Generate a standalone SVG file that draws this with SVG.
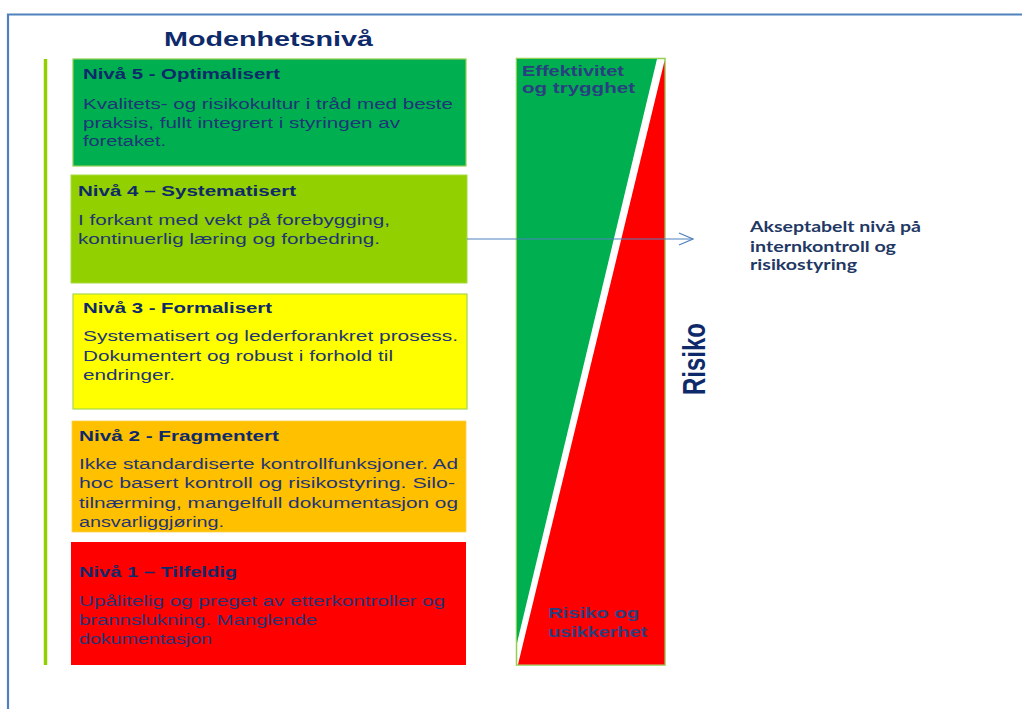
<svg xmlns="http://www.w3.org/2000/svg" width="1022" height="709" viewBox="0 0 1022 709">
<style>
.t{font-family:"Liberation Sans",Arial,sans-serif;font-weight:bold;font-size:15px;fill:#0E2A6A}
.b{font-family:"Liberation Sans",Arial,sans-serif;font-size:15.5px;fill:#1F3576}
.tri{font-family:"Liberation Sans",Arial,sans-serif;font-weight:bold;font-size:15px;fill:#2A3F80}
.lbl{font-family:Lato,"Open Sans",sans-serif;font-weight:bold;font-size:15px;fill:#1F3864}
</style>
<defs>
<marker id="arr" markerWidth="16" markerHeight="14" refX="15" refY="7" orient="auto" markerUnits="userSpaceOnUse">
<path d="M1,1 L15,7 L1,13" fill="none" stroke="#4F81BD" stroke-width="1.2"/>
</marker>
</defs>
<rect width="1022" height="709" fill="#FFFFFF"/>
<g id="frame">
<path d="M1022,14.5 L8,14.5 L8,709" fill="none" stroke="#4F81BD" stroke-width="2.2"/>
</g>
<g id="title">
<text x="164" y="46" font-family="Liberation Sans, Arial, sans-serif" font-weight="bold" font-size="21" fill="#0E2A6A" textLength="209" lengthAdjust="spacingAndGlyphs">Modenhetsnivå</text>
</g>
<g id="axis">
<line x1="45.5" y1="59" x2="45.5" y2="665" stroke="#92D000" stroke-width="3.5"/>
</g>
<g id="level5">
<rect x="73" y="59" width="393" height="107" fill="#00B050" stroke="#92D050" stroke-width="1.2"/>
<text class="t" x="83" y="79" textLength="197" lengthAdjust="spacingAndGlyphs">Nivå 5 - Optimalisert</text>
<text class="b" x="83" y="109" textLength="370" lengthAdjust="spacingAndGlyphs">Kvalitets-  og risikokultur i tråd med beste</text>
<text class="b" x="83" y="128" textLength="317" lengthAdjust="spacingAndGlyphs">praksis, fullt integrert i styringen av</text>
<text class="b" x="83" y="146" textLength="83" lengthAdjust="spacingAndGlyphs">foretaket.</text>
</g>
<g id="level4">
<rect x="71" y="175" width="396" height="108" fill="#92D000" stroke="#A6DB3C" stroke-width="1"/>
<text class="t" x="78" y="196" textLength="218" lengthAdjust="spacingAndGlyphs">Nivå 4 – Systematisert</text>
<text class="b" x="78" y="225" textLength="312" lengthAdjust="spacingAndGlyphs">I forkant med vekt på forebygging,</text>
<text class="b" x="78" y="244" textLength="302" lengthAdjust="spacingAndGlyphs">kontinuerlig læring og forbedring.</text>
</g>
<g id="level3">
<rect x="73" y="294" width="394" height="115" fill="#FFFF00" stroke="#A6D84A" stroke-width="1.2"/>
<text class="t" x="83" y="313" textLength="189" lengthAdjust="spacingAndGlyphs">Nivå 3 - Formalisert</text>
<text class="b" x="83" y="341" textLength="375" lengthAdjust="spacingAndGlyphs">Systematisert og lederforankret prosess.</text>
<text class="b" x="83" y="361" textLength="310" lengthAdjust="spacingAndGlyphs">Dokumentert og robust i forhold til</text>
<text class="b" x="83" y="380" textLength="92" lengthAdjust="spacingAndGlyphs">endringer.</text>
</g>
<g id="level2">
<rect x="72" y="421" width="394" height="111" fill="#FFC000" stroke="#FFD04A" stroke-width="0.8"/>
<text class="t" x="79" y="441" textLength="200" lengthAdjust="spacingAndGlyphs">Nivå 2 - Fragmentert</text>
<text class="b" x="79" y="469" textLength="379" lengthAdjust="spacingAndGlyphs">Ikke standardiserte  kontrollfunksjoner.  Ad</text>
<text class="b" x="79" y="488" textLength="376" lengthAdjust="spacingAndGlyphs">hoc basert kontroll og risikostyring. Silo-</text>
<text class="b" x="79" y="508" textLength="379" lengthAdjust="spacingAndGlyphs">tilnærming, mangelfull dokumentasjon og</text>
<text class="b" x="79" y="527" textLength="145" lengthAdjust="spacingAndGlyphs">ansvarliggjøring.</text>
</g>
<g id="level1">
<rect x="71" y="542" width="395" height="123" fill="#FF0000"/>
<text class="t" x="79" y="577" textLength="158" lengthAdjust="spacingAndGlyphs">Nivå 1 – Tilfeldig</text>
<text class="b" x="79" y="606" textLength="366" lengthAdjust="spacingAndGlyphs" fill="#2A2A8A">Upålitelig  og preget av etterkontroller  og</text>
<text class="b" x="79" y="625" textLength="238" lengthAdjust="spacingAndGlyphs" fill="#2A2A8A">brannslukning.  Manglende</text>
<text class="b" x="79" y="644" textLength="133" lengthAdjust="spacingAndGlyphs" fill="#2A2A8A">dokumentasjon</text>
</g>
<g id="risk-wedge">
<rect x="516.5" y="58.5" width="148.5" height="606.5" fill="#FFFFFF" stroke="#92D050" stroke-width="1.5"/>
<polygon points="517,59 657,59 517,643" fill="#00B050"/>
<polygon points="664.5,61 664.5,664.5 518,664.5" fill="#FF0000"/>
<text class="tri" x="522" y="76" textLength="102" lengthAdjust="spacingAndGlyphs">Effektivitet</text>
<text class="tri" x="522" y="93" textLength="113" lengthAdjust="spacingAndGlyphs">og trygghet</text>
<text class="tri" x="548" y="618" textLength="91" lengthAdjust="spacingAndGlyphs">Risiko og</text>
<text class="tri" x="548" y="637" textLength="99" lengthAdjust="spacingAndGlyphs">usikkerhet</text>
</g>
<g id="risk-label">
<text transform="translate(705,395) rotate(-90) scale(1,1.3)" font-family="Liberation Sans, Arial, sans-serif" font-weight="bold" font-size="24" fill="#0E2A6A" textLength="72" lengthAdjust="spacingAndGlyphs">Risiko</text>
</g>
<g id="connectors">
<line x1="467" y1="239" x2="693" y2="239" stroke="#4F81BD" stroke-width="1.1" marker-end="url(#arr)"/>
</g>
<g id="acceptable">
<text class="lbl" x="750" y="232" textLength="171" lengthAdjust="spacingAndGlyphs">Akseptabelt nivå på</text>
<text class="lbl" x="750" y="252" textLength="146" lengthAdjust="spacingAndGlyphs">internkontroll og</text>
<text class="lbl" x="750" y="270" textLength="107" lengthAdjust="spacingAndGlyphs">risikostyring</text>
</g>
</svg>
